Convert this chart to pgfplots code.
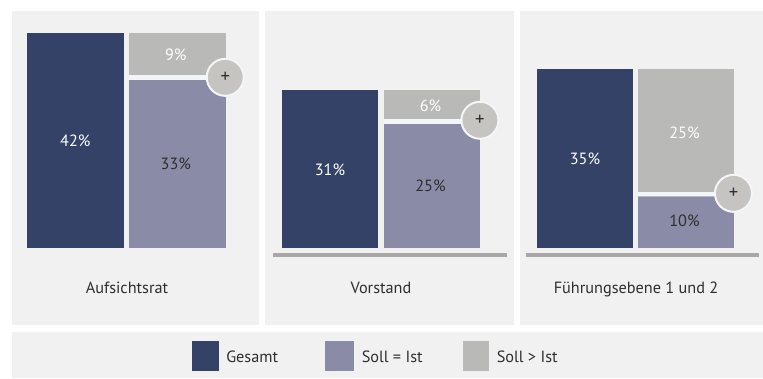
\documentclass[border=0pt]{standalone}
\usepackage{pgfplots}
\pgfplotsset{compat=1.18}
\usepackage{fontspec}
\setmainfont{PT Sans}
\definecolor{navy}{HTML}{334266}
\definecolor{mauve}{HTML}{8A8BA6}
\definecolor{stone}{HTML}{B9B9B7}
\definecolor{badge}{HTML}{C5C4C0}
\definecolor{panel}{HTML}{F1F1F1}
\definecolor{gapline}{HTML}{F4F5F8}
\definecolor{rule}{HTML}{A9A7A6}
\definecolor{ink}{HTML}{2F2F2F}
\def\pxu{0.75pt}
\pgfplotsset{
  panelaxis/.style={
    scale only axis, hide axis, clip=false,
    ybar stacked, bar width=96.5*\pxu,
    width=204*\pxu, height=229.95*\pxu,
    xmin=-0.5, xmax=1.5, ymin=0, ymax=45,
    enlargelimits=false,
  },
  seg/.style={fill=#1, draw=none},
}
\tikzset{
  val/.style={font=\fontsize{12.2}{14}\selectfont, text=#1},
  plusmark/.style={circle, fill=badge, draw=gapline, line width=2*\pxu,
    minimum size=37*\pxu, inner sep=0pt, text=ink, font=\fontsize{14}{15}\selectfont},
}
% Anchors for the annotations of one panel, all in data units:
% #1 panel prefix, #2 total, #3 lower segment, #4 upper segment, #5 gap level, #6 badge level, #7 upper label level
\newcommand{\panelanchors}[7]{%
  \coordinate (#1tot) at (axis cs:0,#2);
  \coordinate (#1low) at (axis cs:1,#3);
  \coordinate (#1up) at (axis cs:1,#7);
  \coordinate (#1gl) at (axis cs:0.527,#5);
  \coordinate (#1gr) at (axis cs:1.473,#5);
  \coordinate (#1b) at (axis cs:1.47,#6);
}
% #1 prefix, #2 gap width, #3-#5 label texts
\newcommand{\paneltop}[5]{%
  \draw[gapline, line width=#2*\pxu] (#1gl) -- (#1gr);
  \node[val=white] at (#1tot) {#3};
  \node[val=ink, xshift=-1.5*\pxu] at (#1low) {#4};
  \node[val=white, xshift=-1.5*\pxu] at (#1up) {#5};
  \node[plusmark] at (#1b) {+};
}
\begin{document}
\begin{tikzpicture}[x=\pxu, y=\pxu]
  \path[use as bounding box, fill=white] (0,0) rectangle (763,378);
  % panels
  \fill[panel] (12,53) rectangle (259,367);
  \fill[panel] (265,53) rectangle (514,367);
  \fill[panel] (520,53) rectangle (763,367);
  \fill[panel] (12,0) rectangle (763,46);
  % base rules
  \fill[rule] (273,121) rectangle (507,125);
  \fill[rule] (526,121) rectangle (759,125);

  % Aufsichtsrat
  \begin{axis}[panelaxis, at={(24.3*\pxu,130*\pxu)}, anchor=south west]
    \addplot[seg=navy] coordinates {(0,42) (1,0)};
    \addplot[seg=mauve] coordinates {(0,0) (1,33)};
    \addplot[seg=stone] coordinates {(0,0) (1,9)};
    \panelanchors{a}{21}{16.5}{9}{33.4}{33.4}{37.9}
  \end{axis}
  \paneltop{a}{4.6}{42\%}{33\%}{9\%}

  % Vorstand
  \begin{axis}[panelaxis, at={(279*\pxu,130*\pxu)}, anchor=south west]
    \addplot[seg=navy] coordinates {(0,31) (1,0)};
    \addplot[seg=mauve] coordinates {(0,0) (1,25)};
    \addplot[seg=stone] coordinates {(0,0) (1,6)};
    \panelanchors{b}{15.4}{12.1}{6}{24.7}{25}{27.8}
  \end{axis}
  \paneltop{b}{5}{31\%}{25\%}{6\%}

  % Fuehrungsebene 1 und 2
  \begin{axis}[panelaxis, width=202*\pxu, at={(534.5*\pxu,130*\pxu)}, anchor=south west]
    \addplot[seg=navy] coordinates {(0,35) (1,0)};
    \addplot[seg=mauve] coordinates {(0,0) (1,10)};
    \addplot[seg=stone] coordinates {(0,0) (1,25)};
    \panelanchors{c}{17.5}{5.3}{25}{10.5}{10.7}{22.6}
  \end{axis}
  \paneltop{c}{3.7}{35\%}{10\%}{25\%}

  % panel captions
  \node[val=ink, anchor=base, inner sep=0pt] at (127,84.7) {Aufsichtsrat};
  \node[val=ink, anchor=base, inner sep=0pt] at (381,84.7) {Vorstand};
  \node[val=ink, anchor=base, inner sep=0pt] at (636,84.7) {Führungsebene 1 und 2};

  % key
  \fill[navy] (191.5,7.5) rectangle (219,36.5);
  \node[val=ink, anchor=base west, inner sep=0pt] at (226,15.7) {Gesamt};
  \fill[mauve] (325,7.5) rectangle (353.5,36.5);
  \node[val=ink, anchor=base west, inner sep=0pt] at (361.5,15.7) {Soll = Ist};
  \fill[stone] (462.5,7.5) rectangle (488.5,36.5);
  \node[val=ink, anchor=base west, inner sep=0pt] at (496.5,15.7) {Soll > Ist};
\end{tikzpicture}
\end{document}
